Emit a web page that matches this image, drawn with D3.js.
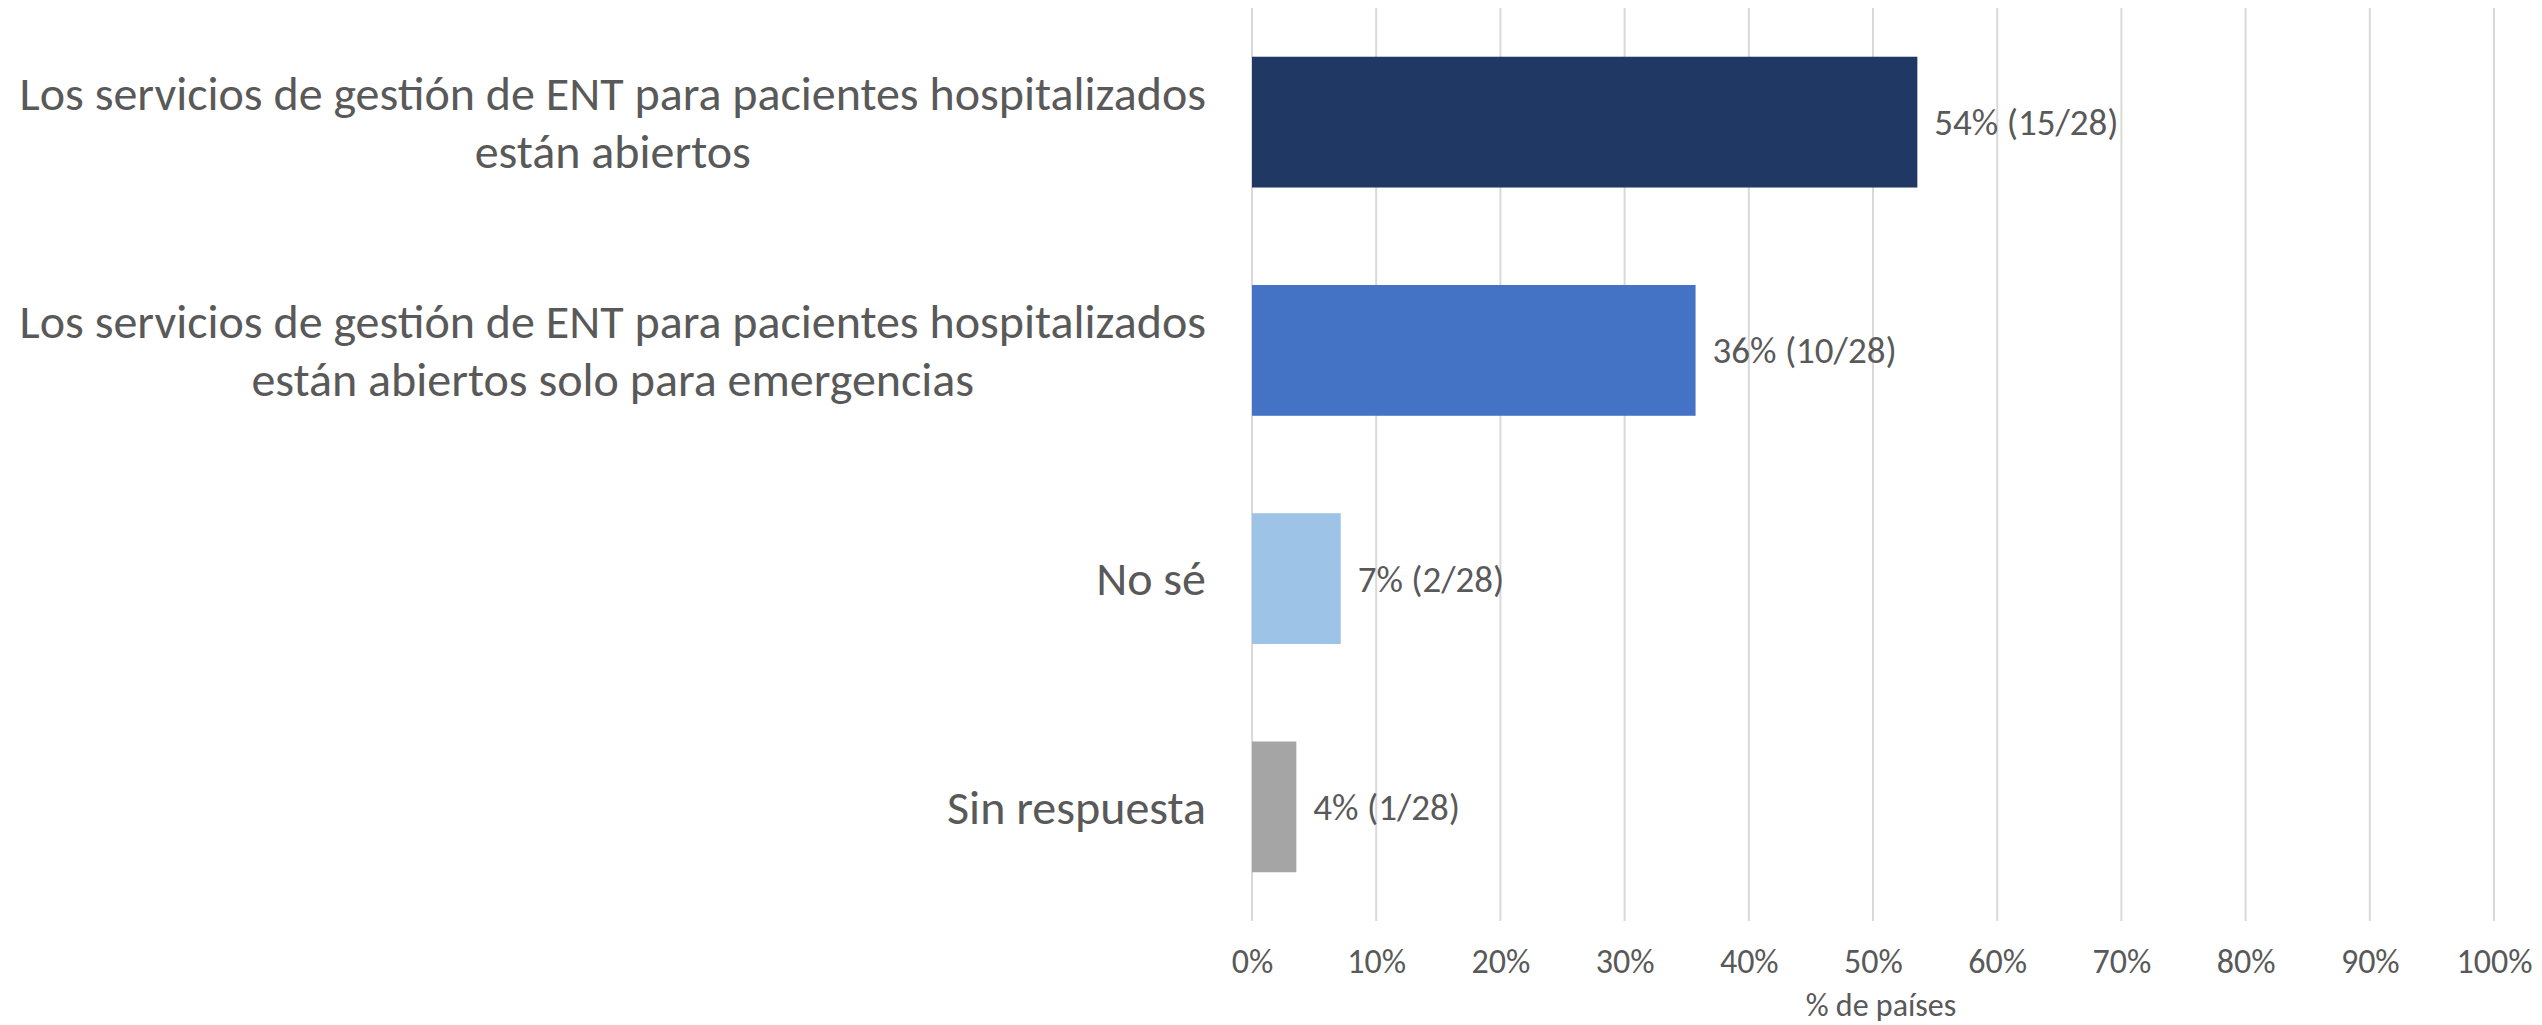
<!DOCTYPE html>
<html lang="es">
  <head>
    <meta charset="UTF-8" />
    <title>Servicios de gestión de ENT</title>
    <script src="https://d3js.org/d3.v7.min.js"></script>
    <style>
      body {
        margin: 0;
        background-color: #fff;
      }
      svg text {
        font-family: Calibri, Carlito, "Open Sans", sans-serif;
        fill: #595959;
      }
    </style>
  </head>
  <body>
    <svg id="chart" width="2542" height="1025"></svg>
    <script>
      // datos del gráfico
      const categories = [
        ["Los servicios de gestión de ENT para pacientes hospitalizados", "están abiertos"],
        ["Los servicios de gestión de ENT para pacientes hospitalizados", "están abiertos solo para emergencias"],
        ["No sé"],
        ["Sin respuesta"],
      ];
      const counts = [15, 10, 2, 1];
      const totalCountries = 28;
      const barColors = ["#203864", "#4472C4", "#9DC3E6", "#A5A5A5"];
      const xTicks = [0, 0.1, 0.2, 0.3, 0.4, 0.5, 0.6, 0.7, 0.8, 0.9, 1];
      const xTitle = "% de países";

      const data = counts.map((n, i) => ({
        lines: categories[i],
        n: n,
        value: n / totalCountries,
        color: barColors[i],
      }));

      const margin = { top: 8, right: 48, bottom: 104, left: 1252 };
      const width = 2542;
      const height = 1025;
      const svg = d3.select("#chart");

      const x = d3
        .scaleLinear()
        .domain([0, 1])
        .range([margin.left, width - margin.right]);

      const y = d3
        .scaleBand()
        .domain(d3.range(data.length))
        .range([margin.top, height - margin.bottom])
        .paddingInner(0.427)
        .paddingOuter(0.2135);

      // líneas de cuadrícula
      svg
        .append("g")
        .selectAll("line")
        .data(xTicks)
        .enter()
        .append("line")
        .attr("x1", (d) => x(d))
        .attr("x2", (d) => x(d))
        .attr("y1", margin.top)
        .attr("y2", height - margin.bottom)
        .attr("stroke", "#D9D9D9")
        .attr("stroke-width", 2);

      // eje x
      const xAxis = svg
        .append("g")
        .attr("transform", `translate(0,${height - margin.bottom})`)
        .call(
          d3
            .axisBottom(x)
            .tickValues(xTicks)
            .tickFormat(d3.format(".0%"))
            .tickSize(0)
            .tickPadding(28)
        );
      xAxis.select(".domain").remove();
      xAxis
        .selectAll("text")
        .attr("font-size", 34)
        .style("font-family", null);

      svg
        .append("text")
        .attr("x", (x(0) + x(1)) / 2 + 8)
        .attr("y", 1016)
        .attr("text-anchor", "middle")
        .attr("font-size", 32)
        .text(xTitle);

      // barras
      svg
        .append("g")
        .selectAll("rect")
        .data(data)
        .enter()
        .append("rect")
        .attr("x", x(0))
        .attr("y", (d, i) => y(i))
        .attr("width", (d) => x(d.value) - x(0))
        .attr("height", y.bandwidth())
        .attr("fill", (d) => d.color);

      // etiquetas de datos
      svg
        .append("g")
        .selectAll("text")
        .data(data)
        .enter()
        .append("text")
        .attr("x", (d) => x(d.value) + 17)
        .attr("y", (d, i) => y(i) + y.bandwidth() / 2)
        .attr("dy", "0.35em")
        .attr("font-size", 37)
        .text((d) => `${Math.round(d.value * 100)}% (${d.n}/${totalCountries})`);

      // etiquetas de categoría
      const lineHeight = 58;
      const labelRight = 1206;
      const labels = svg
        .append("g")
        .selectAll("g")
        .data(data)
        .enter()
        .append("g");

      labels.each(function (d, i) {
        const g = d3.select(this);
        const t = g
          .append("text")
          .attr("text-anchor", "middle")
          .attr("font-size", 48);
        const y0 = -((d.lines.length - 1) * lineHeight) / 2;
        d.lines.forEach((line, k) => {
          t.append("tspan")
            .attr("x", 0)
            .attr("y", y0 + k * lineHeight)
            .attr("dy", "0.35em")
            .text(line);
        });
        const w = t.node().getBBox().width;
        g.attr(
          "transform",
          `translate(${labelRight - w / 2},${y(i) + y.bandwidth() / 2})`
        );
      });
    </script>
  </body>
</html>
